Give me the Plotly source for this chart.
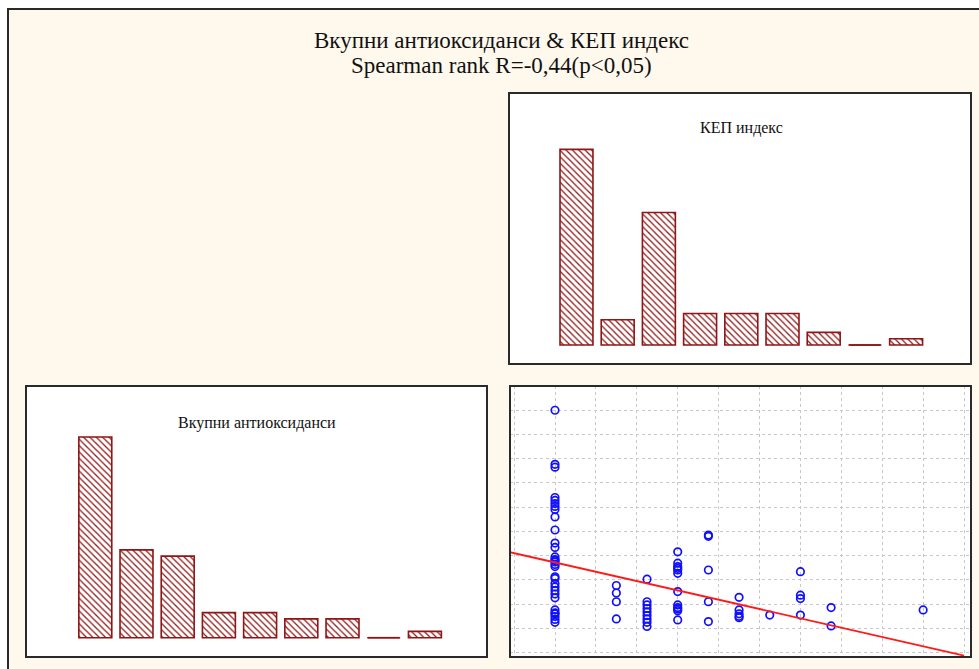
import plotly.graph_objects as go

W, H = 979, 669

# ---------------- data ----------------
main_title = "Вкупни антиоксиданси & КЕП индекс"
subtitle = "Spearman rank R=-0,44(p<0,05)"
kep_title = "КЕП индекс"
ao_title = "Вкупни антиоксиданси"

bins = list(range(9))
kep_counts = [31, 4, 21, 5, 5, 5, 2, 0, 1]
ao_counts = [32, 14, 13, 4, 4, 3, 3, 0, 1]

# scatter: Вкупни антиоксиданси (y) grouped by КЕП индекс value (x)
kep_values = [0, 2, 3, 4, 5, 6, 7, 8, 9, 12]
ao_by_kep = [
    [10.00, 7.77, 7.65, 6.40, 6.28, 6.15, 6.03, 5.91, 5.60, 5.06, 4.52, 4.34,
     3.95, 3.84, 3.80, 3.74, 3.64, 3.55, 3.13, 3.06, 2.85, 2.71, 2.56, 2.42,
     2.26, 1.76, 1.64, 1.60, 1.49, 1.37, 1.25],
    [2.77, 2.46, 2.10, 1.39],
    [3.03, 2.10, 1.97, 1.82, 1.68, 1.53, 1.39, 1.25, 1.08],
    [4.16, 3.69, 3.55, 3.48, 3.41, 3.27, 2.52, 1.97, 1.86, 1.80, 1.73, 1.35],
    [4.85, 4.80, 3.41, 2.10, 1.28],
    [2.28, 1.76, 1.60, 1.50, 1.44],
    [1.55],
    [3.34, 2.37, 2.23, 1.55],
    [1.86, 1.10],
    [1.76],
]
fit_intercept = 3.72
fit_slope = -0.288

# ---------------- styles ----------------
CREAM = "#FFF9ED"
BAR_RED = "#8E1616"
FRAME = "#2a2a2a"
FONT = "Liberation Serif, Times New Roman, serif"

sc_x = [k for k, ys in zip(kep_values, ao_by_kep) for _ in ys]
sc_y = [y for ys in ao_by_kep for y in ys]

def px_dom_x(a, b):
    return [a / W, b / W]

def px_dom_y(top, bottom):
    return [1 - bottom / H, 1 - top / H]

fig = go.Figure()

def bar_traces(counts, xa, ya):
    fig.add_trace(go.Bar(
        x=bins, y=counts, xaxis=xa, yaxis=ya,
        marker=dict(color="white",
                    line=dict(color=BAR_RED, width=1.6),
                    pattern=dict(shape="\\", fgcolor=BAR_RED, bgcolor="white",
                                 size=4.5, solidity=0.28, fillmode="replace")),
        showlegend=False, hoverinfo="skip"))
    # zero-count bins are drawn as a flat line at the baseline
    for b, c in zip(bins, counts):
        if c == 0:
            fig.add_trace(go.Scatter(
                x=[b - 0.38, b + 0.38], y=[0, 0], xaxis=xa, yaxis=ya,
                mode="lines", line=dict(color=BAR_RED, width=1.6),
                showlegend=False, hoverinfo="skip"))

bar_traces(kep_counts, "x", "y")
bar_traces(ao_counts, "x2", "y2")

fig.add_trace(go.Scatter(
    x=sc_x, y=sc_y, xaxis="x3", yaxis="y3", mode="markers",
    marker=dict(symbol="circle-open", size=7.5, color="#1010FF",
                line=dict(width=1.7, color="#1010FF")),
    showlegend=False, hoverinfo="skip"))

sc_xrange = [-1.467, 13.56]
line_x = [sc_xrange[0], 40 / 3]
fig.add_trace(go.Scatter(
    x=line_x, y=[fit_intercept + fit_slope * v for v in line_x],
    xaxis="x3", yaxis="y3", mode="lines",
    line=dict(color="#FF1A1A", width=1.8),
    showlegend=False, hoverinfo="skip"))

hidden = dict(showticklabels=False, ticks="", showgrid=False, zeroline=False,
              showline=False, fixedrange=True)

fig.update_layout(
    width=W, height=H, margin=dict(l=0, r=0, t=0, b=0),
    paper_bgcolor="white", plot_bgcolor="rgba(0,0,0,0)",
    bargap=0.2,
    xaxis=dict(domain=px_dom_x(509, 971), range=[-1.638, 9.575], anchor="y", **hidden),
    yaxis=dict(domain=px_dom_y(93, 364), range=[-3.01, 39.94], anchor="x", **hidden),
    xaxis2=dict(domain=px_dom_x(26, 487), range=[-1.682, 9.507], anchor="y2", **hidden),
    yaxis2=dict(domain=px_dom_y(386, 657), range=[-3.08, 40.14], anchor="x2", **hidden),
    xaxis3=dict(domain=px_dom_x(510, 971), range=sc_xrange, anchor="y3",
                showticklabels=False, ticks="", zeroline=False, showline=False,
                showgrid=True, gridcolor="#C8C8C8", griddash="dot", gridwidth=1,
                tick0=0, dtick=4 / 3, fixedrange=True),
    yaxis3=dict(domain=px_dom_y(386, 657), range=[-0.18, 11.0], anchor="x3",
                showticklabels=False, ticks="", zeroline=False, showline=False,
                showgrid=True, gridcolor="#C8C8C8", griddash="dot", gridwidth=1,
                tick0=0, dtick=1, fixedrange=True),
)

def rect_px(x0, y0, x1, y1, **kw):
    return dict(type="rect", xref="paper", yref="paper",
                x0=x0 / W, x1=x1 / W, y0=1 - y1 / H, y1=1 - y0 / H, **kw)

shapes = [
    rect_px(8, 9, 1010, 700, fillcolor=CREAM, line=dict(color=FRAME, width=2), layer="below"),
    rect_px(509, 93, 971, 364, fillcolor="white", line=dict(width=0), layer="below"),
    rect_px(26, 386, 487, 657, fillcolor="white", line=dict(width=0), layer="below"),
    rect_px(510, 386, 971, 657, fillcolor="white", line=dict(width=0), layer="below"),
    rect_px(509, 93, 971, 364, line=dict(color=FRAME, width=2), layer="above"),
    rect_px(26, 386, 487, 657, line=dict(color=FRAME, width=2), layer="above"),
    rect_px(510, 386, 971, 657, line=dict(color=FRAME, width=2), layer="above"),
]
fig.update_layout(shapes=shapes)

def ann_px(text, x, y, size):
    return dict(text=text, xref="paper", yref="paper", x=x / W, y=1 - y / H,
                xanchor="center", yanchor="middle", showarrow=False,
                font=dict(family=FONT, size=size, color="#111"))

fig.update_layout(annotations=[
    ann_px(main_title, 501, 41, 23),
    ann_px(subtitle, 501, 66, 23),
    ann_px(kep_title, 741, 128, 16),
    ann_px(ao_title, 257, 423, 16),
])

fig.write_html("out.html")
